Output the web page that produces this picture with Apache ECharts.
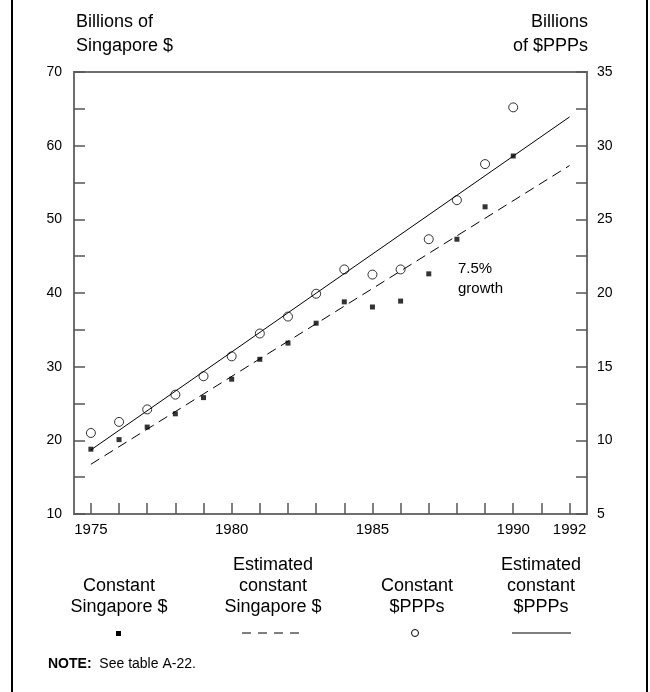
<!DOCTYPE html>
<html>
<head>
<meta charset="utf-8">
<script src="https://cdn.jsdelivr.net/npm/echarts@6/dist/echarts.min.js"></script>
<style>
  html, body { margin: 0; padding: 0; background: #fff; }
  #chart { width: 650px; height: 692px; }
</style>
</head>
<body>
<div id="chart"></div>
<script>
const years = [1975, 1976, 1977, 1978, 1979, 1980, 1981, 1982, 1983, 1984, 1985, 1986, 1987, 1988, 1989, 1990];
// Constant Singapore $ (left axis, billions)
const constSgd = [18.8, 20.1, 21.8, 23.6, 25.8, 28.3, 31.0, 33.2, 35.9, 38.8, 38.1, 38.9, 42.6, 47.3, 51.7, 58.6];
// Constant $PPPs (right axis, billions)
const constPpp = [10.5, 11.25, 12.1, 13.1, 14.35, 15.7, 17.25, 18.4, 19.95, 21.6, 21.25, 21.6, 23.65, 26.3, 28.75, 32.6];
// Estimated trend lines at 7.5% growth, endpoints
const trendYears = [1975, 1992];
const estSgd = [16.75, 57.3];
const estPpp = [9.35, 31.95];

const tickYears = [1975, 1976, 1977, 1978, 1979, 1980, 1981, 1982, 1983, 1984, 1985, 1986, 1987, 1988, 1989, 1990, 1991, 1992];
const labelYears = [1975, 1980, 1985, 1990, 1992];

const FONT = 'Liberation Sans, Arial, sans-serif';
const AXIS_GREY = '#6e6e6e';

const chart = echarts.init(document.getElementById('chart'), null, { renderer: 'canvas' });

const pair = (xs, ys) => xs.map((x, i) => [x, ys[i]]);

const legendCols = [
  { x: 119, lines: ['Constant', 'Singapore $'] },
  { x: 273, lines: ['Estimated', 'constant', 'Singapore $'] },
  { x: 417, lines: ['Constant', '$PPPs'] },
  { x: 541, lines: ['Estimated', 'constant', '$PPPs'] }
];

const txt = (x, y, text, size, align) => ({
  type: 'text', x: x, y: y,
  style: { text: text, font: size + 'px ' + FONT, fill: '#000', align: align || 'left', verticalAlign: 'middle' }
});

const graphics = [];
// frame lines at left and right
graphics.push({ type: 'line', shape: { x1: 12, y1: 0, x2: 12, y2: 692 }, style: { stroke: '#000', lineWidth: 2 } });
graphics.push({ type: 'line', shape: { x1: 647, y1: 0, x2: 647, y2: 692 }, style: { stroke: '#000', lineWidth: 2 } });

// axis titles
graphics.push(txt(76, 22, 'Billions of', 18));
graphics.push(txt(76, 46, 'Singapore $', 18));
graphics.push(txt(588, 22, 'Billions', 18, 'right'));
graphics.push(txt(588, 46, 'of $PPPs', 18, 'right'));

// annotation
graphics.push(txt(458, 269, '7.5%', 15));
graphics.push(txt(458, 289, 'growth', 15));

// legend text (bottom aligned)
legendCols.forEach(c => {
  const n = c.lines.length;
  c.lines.forEach((t, i) => {
    graphics.push(txt(c.x, 607 - (n - 1 - i) * 21, t, 18, 'center'));
  });
});
// legend symbols
graphics.push({ type: 'rect', shape: { x: 116, y: 631, width: 5, height: 5 }, style: { fill: '#000' } });
graphics.push({ type: 'line', shape: { x1: 242, y1: 633, x2: 304, y2: 633 }, style: { stroke: '#000', lineWidth: 1, lineDash: [9, 7] } });
graphics.push({ type: 'circle', shape: { cx: 415, cy: 633, r: 3.5 }, style: { fill: '#fff', stroke: '#000', lineWidth: 1 } });
graphics.push({ type: 'line', shape: { x1: 512, y1: 633, x2: 571, y2: 633 }, style: { stroke: '#000', lineWidth: 1 } });

// note
graphics.push({
  type: 'text', x: 48, y: 664,
  style: {
    text: '{b|NOTE:}  See table A-22.',
    font: '14px ' + FONT, fill: '#000', verticalAlign: 'middle',
    rich: { b: { fontWeight: 'bold', fontSize: 14, fontFamily: FONT } }
  }
});

chart.setOption({
  animation: false,
  backgroundColor: '#fff',
  textStyle: { fontFamily: FONT },
  grid: {
    left: 74, right: 63, top: 72, bottom: 178,
    show: true, borderColor: AXIS_GREY, borderWidth: 2, backgroundColor: 'transparent'
  },
  xAxis: {
    type: 'value',
    min: 1974.4, max: 1992.62,
    splitLine: { show: false },
    axisLine: { show: true, onZero: false, lineStyle: { color: AXIS_GREY, width: 2 } },
    axisTick: { show: true, inside: true, length: 11, customValues: tickYears, lineStyle: { color: '#555', width: 1.5 } },
    axisLabel: { customValues: labelYears, color: '#000', fontSize: 15, margin: 8, formatter: v => String(v) }
  },
  yAxis: [
    {
      type: 'value', min: 10, max: 70, interval: 5,
      splitLine: { show: false },
      axisLine: { show: true, lineStyle: { color: AXIS_GREY, width: 2 } },
      axisTick: { show: true, inside: true, length: 11, lineStyle: { color: '#555', width: 1.5 } },
      axisLabel: { color: '#000', fontSize: 14, margin: 12, formatter: v => (v % 10 === 0 ? String(v) : '') }
    },
    {
      type: 'value', min: 5, max: 35, interval: 2.5, position: 'right',
      splitLine: { show: false },
      axisLine: { show: true, lineStyle: { color: AXIS_GREY, width: 2 } },
      axisTick: { show: true, inside: true, length: 11, lineStyle: { color: '#555', width: 1.5 } },
      axisLabel: { color: '#000', fontSize: 14, margin: 10, formatter: v => (v % 5 === 0 ? String(v) : '') }
    }
  ],
  series: [
    {
      name: 'Estimated constant Singapore $',
      type: 'line', yAxisIndex: 0,
      data: pair(trendYears, estSgd),
      symbol: 'none',
      lineStyle: { color: '#000', width: 1, type: [10, 6] }
    },
    {
      name: 'Estimated constant $PPPs',
      type: 'line', yAxisIndex: 1,
      data: pair(trendYears, estPpp),
      symbol: 'none',
      lineStyle: { color: '#000', width: 1 }
    },
    {
      name: 'Constant Singapore $',
      type: 'scatter', yAxisIndex: 0,
      data: pair(years, constSgd),
      symbol: 'rect', symbolSize: 5,
      itemStyle: { color: '#000' }
    },
    {
      name: 'Constant $PPPs',
      type: 'scatter', yAxisIndex: 1,
      data: pair(years, constPpp),
      symbol: 'circle', symbolSize: 9,
      itemStyle: { color: '#fff', borderColor: '#000', borderWidth: 1 }
    }
  ],
  graphic: graphics
});
</script>
</body>
</html>
